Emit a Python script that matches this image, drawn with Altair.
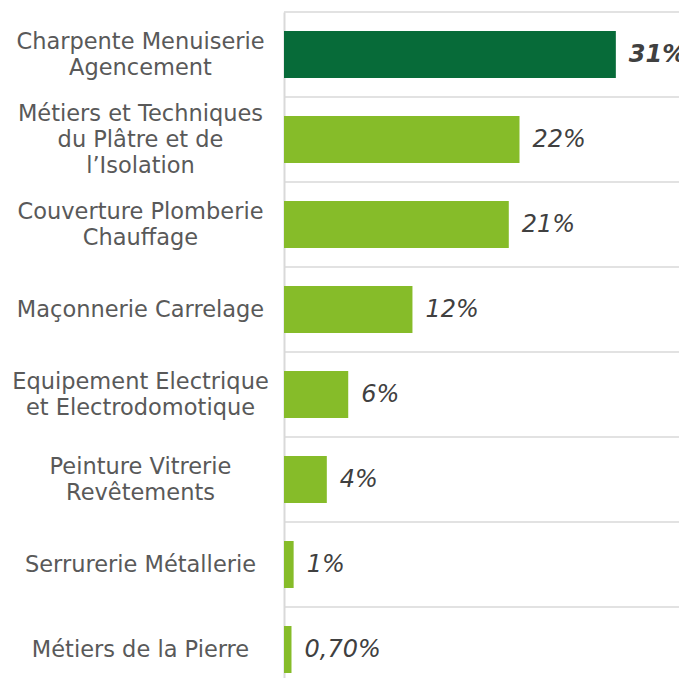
import altair as alt
import pandas as pd

categories = [
    "Charpente Menuiserie\nAgencement",
    "Métiers et Techniques\ndu Plâtre et de\nl’Isolation",
    "Couverture Plomberie\nChauffage",
    "Maçonnerie Carrelage",
    "Equipement Electrique\net Electrodomotique",
    "Peinture Vitrerie\nRevêtements",
    "Serrurerie Métallerie",
    "Métiers de la Pierre",
]
values = [31, 22, 21, 12, 6, 4, 0.9, 0.7]
labels = ["31%", "22%", "21%", "12%", "6%", "4%", "1%", "0,70%"]

df = pd.DataFrame({"category": categories, "value": values, "label": labels})

DARK = "#076b39"
LIGHT = "#86bc29"
W = 395
LH = 26

y_scale = alt.Scale(range=[0, 680], paddingInner=0, paddingOuter=0)

label_offset = {
    "condition": [
        {"test": "length(split(datum.value, '\\n')) == 2", "value": -LH / 2},
        {"test": "length(split(datum.value, '\\n')) == 3", "value": -LH},
    ],
    "value": 0,
}

y_enc = alt.Y(
    "category:N",
    sort=categories,
    title=None,
    scale=y_scale,
    axis=alt.Axis(
        grid=False,
        domain=True,
        domainColor="#d9d9d9",
        domainWidth=2,
        ticks=False,
        tickSize=0,
        labelPadding=144,
        labelAlign="center",
        labelBaseline="middle",
        labelOffset=label_offset,
        labelExpr="split(datum.value, '\\n')",
        labelFont="DejaVu Sans",
        labelFontSize=22.5,
        labelColor="#595959",
        labelLineHeight=LH,
        labelLimit=0,
    ),
)
x_enc = alt.X("value:Q", scale=alt.Scale(domain=[0, 36.9], nice=False), axis=None)

base = alt.Chart(df)

grid = base.mark_rule(color="#d9d9d9", strokeWidth=1.5).encode(
    y=alt.Y("category:N", sort=categories, bandPosition=0),
    x=alt.value(0),
    x2=alt.value(W),
)

bars = base.mark_bar(height=47).encode(
    y=y_enc,
    x=x_enc,
    color=alt.condition(alt.datum.category == categories[0], alt.value(DARK), alt.value(LIGHT)),
)

txt_bold = base.transform_filter(alt.datum.category == categories[0]).mark_text(
    align="left", baseline="middle", dx=13, font="DejaVu Sans", fontSize=24,
    fontStyle="italic", fontWeight="bold", color="#404040",
).encode(y=alt.Y("category:N", sort=categories), x="value:Q", text="label:N")

txt_norm = base.transform_filter(alt.datum.category != categories[0]).mark_text(
    align="left", baseline="middle", dx=13, font="DejaVu Sans", fontSize=24,
    fontStyle="italic", color="#404040",
).encode(y=alt.Y("category:N", sort=categories), x="value:Q", text="label:N")

chart = alt.layer(grid, bars, txt_bold, txt_norm).properties(
    width=W,
    height=666,
    autosize=alt.AutoSizeParams(type="none"),
    padding={"left": 276, "top": 4, "right": 0, "bottom": 0},
).configure_view(stroke=None)

chart.save("out.html", embed_options={"renderer": "svg", "actions": False})
